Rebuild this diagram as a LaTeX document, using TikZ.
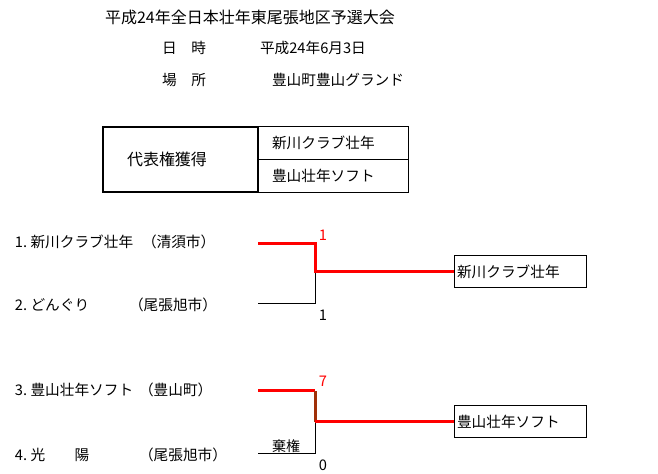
\documentclass[tikz,border=0pt]{standalone}
\usepackage{fontspec}
\setmainfont{Noto Sans CJK JP}
\usetikzlibrary{positioning}
\definecolor{winred}{RGB}{255,0,0}
\definecolor{winbrown}{RGB}{160,48,8}

\begin{document}
\begin{tikzpicture}[
            x=0.75pt, y=-0.75pt,
            every node/.style={font=\fontsize{11}{13}\selectfont, inner sep=0pt, outer sep=0pt},
            head/.style={anchor=west},
            cell/.style={
                    draw,
                    line width=0.75pt,
                    minimum height=24.5pt,
                    text width=91.5pt,
                    inner xsep=10.5pt,
                    align=left
                },
            repcell/.style={
                    draw,
                    line width=1.5pt,
                    minimum height=48.75pt,
                    text width=80.25pt,
                    inner xsep=18pt,
                    align=left,
                    font=\fontsize{12}{14}\selectfont
                },
            team/.style={anchor=west},
            winbox/.style={
                    draw,
                    line width=0.75pt,
                    minimum height=24pt,
                    text width=94.5pt,
                    inner xsep=2.25pt,
                    align=left,
                    anchor=west
                },
            winline/.style={draw=winred, line width=2.25pt},
            loseline/.style={draw=black, line width=0.75pt},
            score/.style={font=\fontsize{11}{13}\selectfont}
        ]

        \useasboundingbox (0,0) rectangle (658,474);

        % heading
        \node[head, font=\fontsize{12}{14}\selectfont] (title) at (105,17) {平成24年全日本壮年東尾張地区予選大会};
        \node[head] (dateLabel) at (162,48) {日　時};
        \node[head] (dateValue) at (260,48) {平成24年6月3日};
        \node[head] (placeLabel) at (162,80) {場　所};
        \node[head] (placeValue) at (272,80) {豊山町豊山グランド};

        % representatives
        \node[repcell] (rep) at (180.5,159.5) {代表権獲得};
        \node[cell, anchor=north west] (rep1) at (rep.north east) {新川クラブ壮年};
        \node[cell, below=0pt of rep1] (rep2) {豊山壮年ソフト};

        % teams
        \node[team] (team1) at (15,242) {1.\ 新川クラブ壮年};
        \node[team] (city1) at (142,242) {（清須市）};
        \node[team] (team2) at (15,305) {2.\ どんぐり};
        \node[team] (city2) at (129,305) {（尾張旭市）};
        \node[team] (team3) at (15,390) {3.\ 豊山壮年ソフト};
        \node[team] (city3) at (139,390) {（豊山町）};
        \node[team] (team4) at (15,455) {4.\ 光　　陽};
        \node[team] (city4) at (139,455) {（尾張旭市）};

        \node[winbox] (winner1) at (454,272) {新川クラブ壮年};
        \node[winbox] (winner2) at (454,422) {豊山壮年ソフト};

        \coordinate (t1end) at (258,244);
        \coordinate (t2end) at (258,304);
        \coordinate (m1) at (315,272);
        \coordinate (t3end) at (258,391);
        \coordinate (t4end) at (258,454);
        \coordinate (m2) at (315,422);

        % bracket lines
        \draw[loseline] (t2end) -| (m1);
        \draw[winline] (t1end) -| (m1) -- (winner1.west);

        \draw[loseline] (t4end) -| (m2);
        \draw[winline] (t3end) -- (t3end -| m2);
        \draw[winline, draw=winbrown] (t3end -| m2) -- (m2);
        \draw[winline] (m2) -- (winner2.west);

        \node[font=\fontsize{10.5}{12}\selectfont] (forfeit) at (286,446) {棄権};

        % scores
        \node[score, text=winred] (score1) at (323,235) {1};
        \node[score] (score2) at (323,315) {1};
        \node[score, text=winred] (score3) at (323,381) {7};
        \node[score] (score4) at (323,465) {0};

    \end{tikzpicture}
\end{document}
